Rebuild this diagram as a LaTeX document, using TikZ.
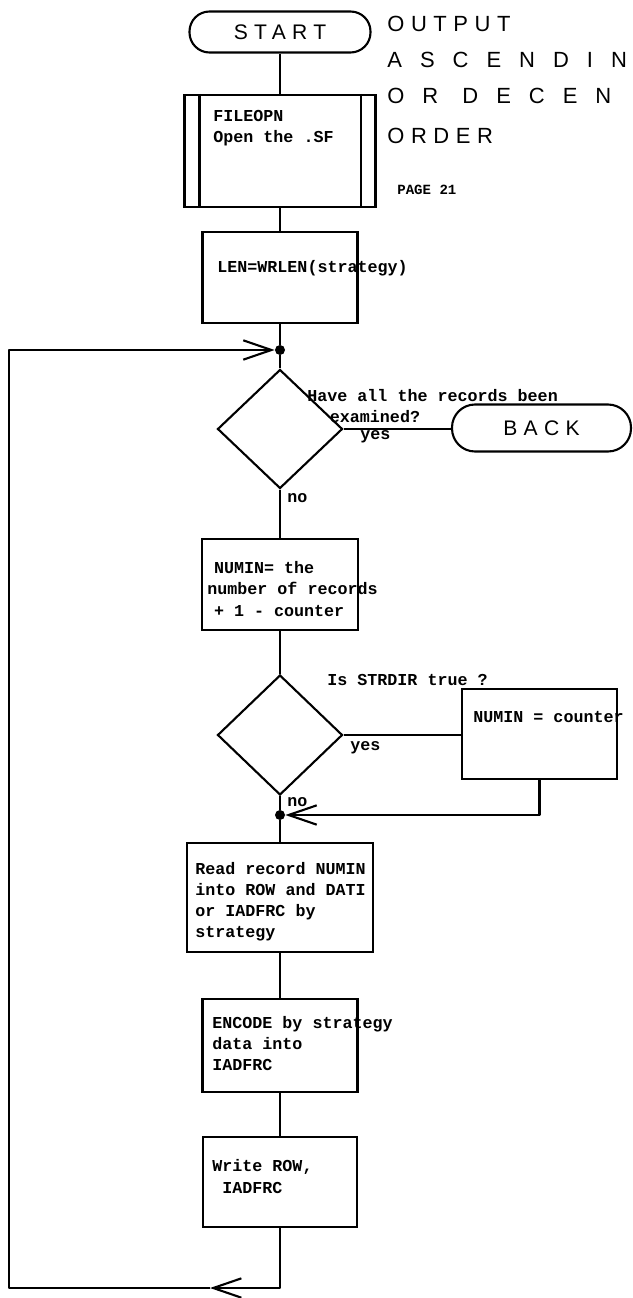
\documentclass[tikz,border=0pt]{standalone}
\usepackage{fontspec}
\usepackage{tikz}
\usetikzlibrary{shapes.geometric,arrows.meta,positioning,calc}
\newfontfamily\fcmono{Liberation Mono}
\newfontfamily\fcletter[LetterSpace=30]{Liberation Sans}
\newfontfamily\fcletterwide[LetterSpace=82]{Liberation Sans}
\tikzset{
  fcEdge/.style={line width=1.2pt, line join=round},
  fcFlow/.style={fcEdge, -{Straight Barb[length=16pt, width=11pt]}},
  fcTerm/.style={draw, line width=1.2pt, rounded corners=0.4cm,
    minimum height=0.82cm, inner sep=0pt,
    font=\fcletter\fontsize{12}{14}\selectfont},
  fcProc/.style={draw, line width=1.2pt, inner sep=0pt,
    minimum width=3.1cm, minimum height=1.82cm},
  fcDec/.style={draw, diamond, line width=1.2pt, inner sep=0pt,
    minimum width=2.5cm, minimum height=2.38cm},
  fcDot/.style={circle, fill, inner sep=0pt, minimum size=0.2cm},
  %% Typed text in and beside the boxes
  fcText/.style={anchor=west, inner sep=0pt, align=left,
    font=\fcmono\bfseries\fontsize{9.5}{12}\selectfont},
  %% Lettered title
  fcTitle/.style={anchor=west, inner sep=0pt,
    font=\fcletter\fontsize{12.5}{14}\selectfont},
  fcTitleW/.style={fcTitle, font=\fcletterwide\fontsize{12.5}{14}\selectfont},
  fcPage/.style={anchor=west, inner sep=0pt,
    font=\fcmono\bfseries\fontsize{8}{9}\selectfont},
}
\begin{document}
\begin{tikzpicture}[x=1cm, y=1cm]
\useasboundingbox (0,0) rectangle (12.64,-25.96);

%% Title, upper right
\node[fcTitle]  (tOut)  at (7.74,-0.48) {OUTPUT};
\node[fcTitleW] (tAsc)  at (7.74,-1.20) {ASCENDIN};
\node[fcTitleW] (tDesc) at (7.74,-1.92) {OR DECEN};
\node[fcTitle]  (tOrd)  at (7.74,-2.72) {ORDER};
\node[fcPage]   (tPage) at (7.94,-3.80) {PAGE 21};

%% Boxes on the main line (x = 5.6)
\node[fcTerm, minimum width=3.62cm] (pStart) at (5.6,-0.64) {START};
\node[fcProc, minimum width=3.82cm, minimum height=2.24cm] (pOpen) at (5.6,-3.02) {};
\draw[fcEdge] ([xshift=0.32cm]pOpen.north west) -- ([xshift=0.32cm]pOpen.south west);
\draw[fcEdge] ([xshift=-0.32cm]pOpen.north east) -- ([xshift=-0.32cm]pOpen.south east);
\node[fcProc] (pLen) at (5.6,-5.55) {};
\node[fcDot] (jTop) at (5.6,-7.0) {};
\node[fcDec] (qDone) at (5.6,-8.58) {};
\node[fcTerm, minimum width=3.58cm, minimum height=0.94cm, rounded corners=0.46cm] (pBack) at (10.83,-8.56) {BACK};
\node[fcProc, minimum width=3.12cm] (pNumin) at (5.6,-11.69) {};
\node[fcDec, minimum height=2.4cm] (qDir) at (5.6,-14.7) {};
\node[fcProc, minimum height=1.8cm] (pCtr) at (10.79,-14.68) {};
\node[fcDot] (jMid) at (5.6,-16.3) {};
\node[fcProc, minimum width=3.72cm, minimum height=2.18cm] (pRead) at (5.6,-17.95) {};
\node[fcProc, minimum height=1.86cm] (pEnc) at (5.6,-20.91) {};
\node[fcProc, minimum width=3.08cm, minimum height=1.8cm] (pWrite) at (5.6,-23.64) {};

%% Texts
\node[fcText] (xOpen)  at (4.26,-2.56) {FILEOPN\\Open the .SF};
\node[fcText] (xLen)   at (4.34,-5.36) {LEN=WRLEN(strategy)};
\node[fcText] (xDone)  at (6.14,-8.12) {Have all the records been\\\hspace*{1.35em}examined?};
\node[fcText] (xYes1)  at (7.20,-8.74) {yes};
\node[fcText] (xNo1)   at (5.74,-9.96) {no};
\node[fcText] (xNumin) at (4.14,-11.78) {\hspace*{0.4em}NUMIN= the\\number of records\\\hspace*{0.4em}+ 1 - counter};
\node[fcText] (xDir)   at (6.54,-13.60) {Is STRDIR true ?};
\node[fcText] (xCtr)   at (9.46,-14.34) {NUMIN = counter};
\node[fcText] (xYes2)  at (7.00,-14.96) {yes};
\node[fcText] (xNo2)   at (5.74,-16.04) {no};
\node[fcText] (xRead)  at (3.90,-18.03) {Read record NUMIN\\into ROW and DATI\\or IADFRC by\\strategy};
\node[fcText] (xEnc)   at (4.24,-20.87) {ENCODE by strategy\\data into\\IADFRC};
\node[fcText] (xWrite) at (4.24,-23.53) {Write ROW,\\\ IADFRC};

%% Connectors
\draw[fcEdge] (pStart) -- (pOpen);
\draw[fcEdge] (pOpen) -- (pLen);
\draw[fcEdge] (pLen) -- (jTop) -- (qDone);
\draw[fcEdge] (qDone.east) -- (qDone.east -| pBack.west);
\draw[fcEdge] (qDone.south) -- (pNumin);
\draw[fcEdge] (pNumin) -- (qDir);
\draw[fcEdge] (qDir.east) -- (qDir.east -| pCtr.west);
\draw[fcFlow] (pCtr.south) |- (jMid);
\draw[fcEdge] (qDir.south) -- (jMid) -- (pRead);
\draw[fcEdge] (pRead) -- (pEnc);
\draw[fcEdge] (pEnc) -- (pWrite);

%% Loop back to the top
\coordinate (cBotArr) at (4.2,-25.76);
\coordinate (cLoopL) at (0.18,-25.76);
\draw[fcFlow] (pWrite.south) |- (cBotArr);
\draw[fcFlow] (cBotArr) -- (cLoopL) |- (jTop);

\end{tikzpicture}
\end{document}
